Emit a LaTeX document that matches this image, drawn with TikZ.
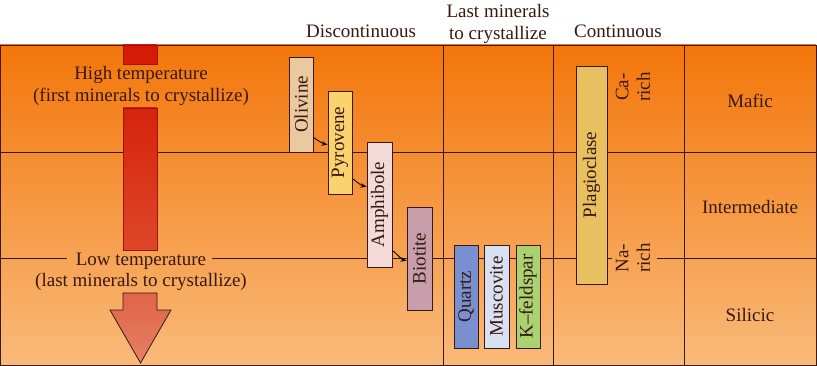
\documentclass[tikz,border=0pt]{standalone}
\usepackage{fontspec}
\setmainfont{Liberation Serif}
\usetikzlibrary{arrows.meta}
\definecolor{bandtop}{RGB}{243,118,10}
\definecolor{bandbot}{RGB}{249,186,122}
\definecolor{ink}{RGB}{55,25,15}
\definecolor{shaftA}{RGB}{212,26,6}
\definecolor{shaftB}{RGB}{224,86,50}
\definecolor{headA}{RGB}{224,100,72}
\definecolor{headB}{RGB}{230,128,100}
\definecolor{olivc}{RGB}{234,200,160}
\definecolor{pyroc}{RGB}{250,210,110}
\definecolor{amphc}{RGB}{242,218,216}
\definecolor{biotc}{RGB}{200,158,172}
\definecolor{quarc}{RGB}{120,144,208}
\definecolor{muscc}{RGB}{216,224,242}
\definecolor{kfelc}{RGB}{170,210,112}
\definecolor{plagc}{RGB}{232,192,96}
\tikzset{
  gridline/.style={draw=ink, line width=0.8pt},
  mineral/.style={draw=ink, line width=0.8pt, rotate=90, inner sep=0pt, text=ink},
  conn/.style={draw=black, line width=0.8pt, -{Stealth[length=6pt,width=4.5pt]}},
  lbl/.style={text=ink, align=center, inner sep=0pt}
}
\begin{document}
\begin{tikzpicture}[x=1pt,y=-1pt, font=\fontsize{19}{21.5}\selectfont]
\useasboundingbox (0,0) rectangle (817,366);
\fill[white] (0,0) rectangle (817,366);
% background bands
\shade[top color=bandtop, bottom color=bandbot] (0,45) rectangle (816,365);

% header labels
\node[lbl] (hdisc) at (361,31) {Discontinuous};
\node[lbl] (hlast) at (498,24) {Last minerals\\to crystallize};
\node[lbl] (hcont) at (618,31) {Continuous};

% side text nodes
\node[lbl] (hi) at (141,86) {High temperature\\(first minerals to crystallize)};
\node[lbl] (lo) at (141,272) {Low temperature\\(last minerals to crystallize)};
\node[lbl] (mafic) at (750,101) {Mafic};
\node[lbl] (inter) at (750,207) {Intermediate};
\node[lbl] (silic) at (750,315) {Silicic};
\node[lbl, rotate=90] (ca) at (633,87) {Ca-\\rich};
\node[lbl, rotate=90] (na) at (633,258) {Na-\\rich};

% grid lines
\draw[gridline] (0,152) -- (816,152);
\draw[gridline] (0,258) -- (67,258);
\draw[gridline] (212,258) -- (612,258);
\draw[gridline] (657,258) -- (816,258);
\draw[gridline] (443,45) -- (443,365);
\draw[gridline] (553,45) -- (553,365);
\draw[gridline] (684,45) -- (684,365);
\draw[gridline] (0,45) rectangle (816,365);

% temperature arrow
\shade[top color=shaftA, bottom color=shaftA!94!shaftB, draw={rgb,255:red,150;green,20;blue,10}, line width=0.5pt]
  (123,45) rectangle (157,64);
\shade[top color=shaftA!85!shaftB, bottom color=shaftA!25!shaftB, draw={rgb,255:red,150;green,20;blue,10}, line width=0.5pt]
  (123,108) rectangle (157,250);
\shade[top color=headA, bottom color=headB, draw=ink, line width=0.8pt]
  (123,293) -- (157,293) -- (157,310) -- (171,310) -- (140.5,363) -- (110,310) -- (123,310) -- cycle;

% minerals (discontinuous series)
\node[mineral, fill=olivc, minimum width=95, minimum height=24] (ol) at (301,104.5) {Olivine};
\node[mineral, fill=pyroc, minimum width=103, minimum height=24] (py) at (340,142.5) {Pyrovene};
\node[mineral, fill=amphc, minimum width=125, minimum height=25] (am) at (379.5,204.5) {Amphibole};
\node[mineral, fill=biotc, minimum width=103, minimum height=25] (bi) at (419.5,258.5) {Biotite};

% last minerals
\node[mineral, fill=quarc, minimum width=103, minimum height=24] (qz) at (466,296.5) {Quartz};
\node[mineral, fill=muscc, minimum width=103, minimum height=25] (mu) at (496.5,296.5) {Muscovite};
\node[mineral, fill=kfelc, minimum width=103, minimum height=24] (kf) at (528,296.5) {K–feldspar};

% continuous series
\node[mineral, fill=plagc, minimum width=218, minimum height=31] (pl) at (591.5,175) {Plagioclase};

% reaction arrows
\draw[conn] ([yshift=15pt]ol.south west) .. controls +(6,4) and +(-5,-1) .. ([yshift=-54pt]py.north east);
\draw[conn] ([yshift=16pt]py.south west) .. controls +(6,5) and +(-5,-1) .. ([yshift=-45pt]am.north east);
\draw[conn] ([yshift=17pt]am.south west) .. controls +(6,5) and +(-5,-1) .. ([yshift=-54pt]bi.north east);
\end{tikzpicture}
\end{document}
